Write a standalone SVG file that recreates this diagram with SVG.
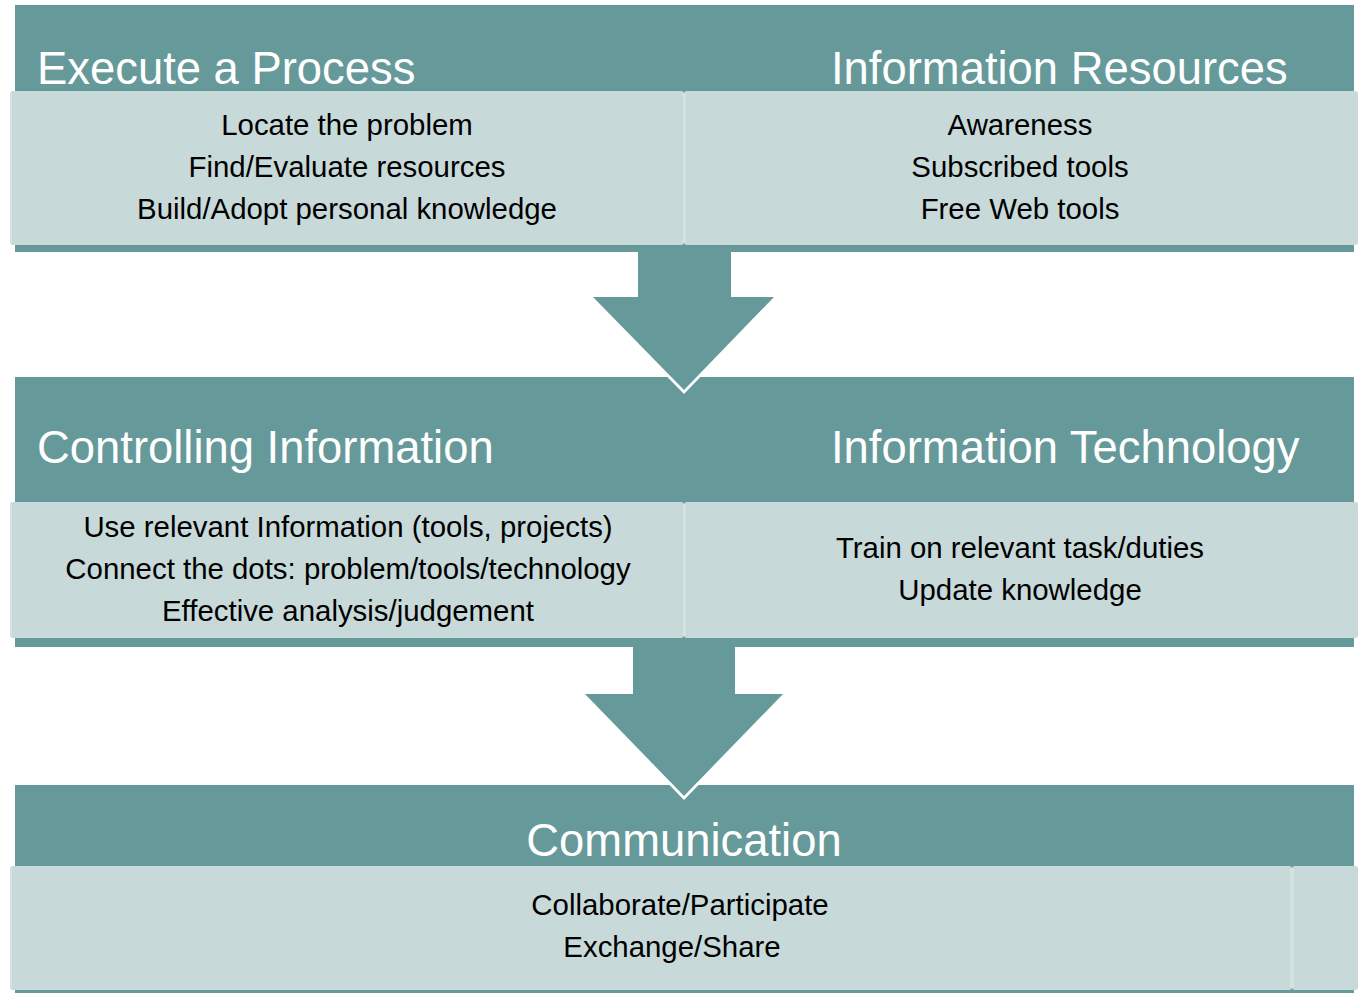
<svg xmlns="http://www.w3.org/2000/svg" width="1360" height="993" viewBox="0 0 1360 993">
  <style>
    .band { fill: #669999; }
    .panel { fill: #C8D9D9; }
    .edge { fill: #D4E2E2; }
    .title { font-family: "Liberation Sans", Arial, sans-serif; font-size: 45.4px; fill: #FFFFFF; }
    .body { font-family: "Liberation Sans", Arial, sans-serif; font-size: 29.4px; fill: #000000; text-anchor: middle; }
    .arrow { fill: #669999; }
    .halo { fill: #FFFFFF; }
  </style>
  <rect width="1360" height="993" fill="#FFFFFF"/>

  <g id="stage1">
    <rect class="band" x="15" y="5" width="1339" height="247"/>
    <text class="title" x="37" y="84">Execute a Process</text>
    <text class="title" x="831" y="84">Information Resources</text>
    <rect class="panel" x="10" y="91" width="674" height="154" rx="3"/>
    <rect class="panel" x="684" y="91" width="674" height="154" rx="3"/>
    <rect class="edge" x="10" y="93" width="2" height="150"/>
    <rect class="edge" x="683" y="93" width="3" height="150"/>
    <text class="body" x="347" y="135">Locate the problem</text>
    <text class="body" x="347" y="177">Find/Evaluate resources</text>
    <text class="body" x="347" y="219">Build/Adopt personal knowledge</text>
    <text class="body" x="1020" y="135">Awareness</text>
    <text class="body" x="1020" y="177">Subscribed tools</text>
    <text class="body" x="1020" y="219">Free Web tools</text>
  </g>

  <g id="stage2">
    <rect class="band" x="15" y="377" width="1339" height="270"/>
    <text class="title" x="37" y="463">Controlling Information</text>
    <text class="title" x="831" y="463">Information Technology</text>
    <rect class="panel" x="10" y="502" width="674" height="136" rx="3"/>
    <rect class="panel" x="684" y="502" width="674" height="136" rx="3"/>
    <rect class="edge" x="10" y="504" width="2" height="132"/>
    <rect class="edge" x="683" y="504" width="3" height="132"/>
    <text class="body" x="348" y="537">Use relevant Information (tools, projects)</text>
    <text class="body" x="348" y="579">Connect the dots: problem/tools/technology</text>
    <text class="body" x="348" y="621">Effective analysis/judgement</text>
    <text class="body" x="1020" y="558">Train on relevant task/duties</text>
    <text class="body" x="1020" y="600">Update knowledge</text>
  </g>

  <g id="stage3">
    <rect class="band" x="15" y="785" width="1339" height="208"/>
    <text class="title" x="684" y="856" text-anchor="middle">Communication</text>
    <rect class="panel" x="10" y="866" width="1282" height="124" rx="3"/>
    <rect class="panel" x="1292" y="866" width="66" height="124" rx="3"/>
    <rect class="edge" x="10" y="868" width="2" height="120"/>
    <rect class="edge" x="1290" y="868" width="4" height="120"/>
    <text class="body" x="680" y="915">Collaborate/Participate</text>
    <text class="body" x="672" y="957">Exchange/Share</text>
  </g>

  <g id="connectors">
    <path class="halo" d="M593,301 L774,301 L684,394 Z"/>
    <path class="arrow" d="M638,252 L731,252 L731,297 L774,297 L684,390 L593,297 L638,297 Z"/>
    <path class="halo" d="M585,698 L783,698 L684,800 Z"/>
    <path class="arrow" d="M633,647 L735,647 L735,694 L783,694 L684,796 L585,694 L633,694 Z"/>
  </g>
</svg>
